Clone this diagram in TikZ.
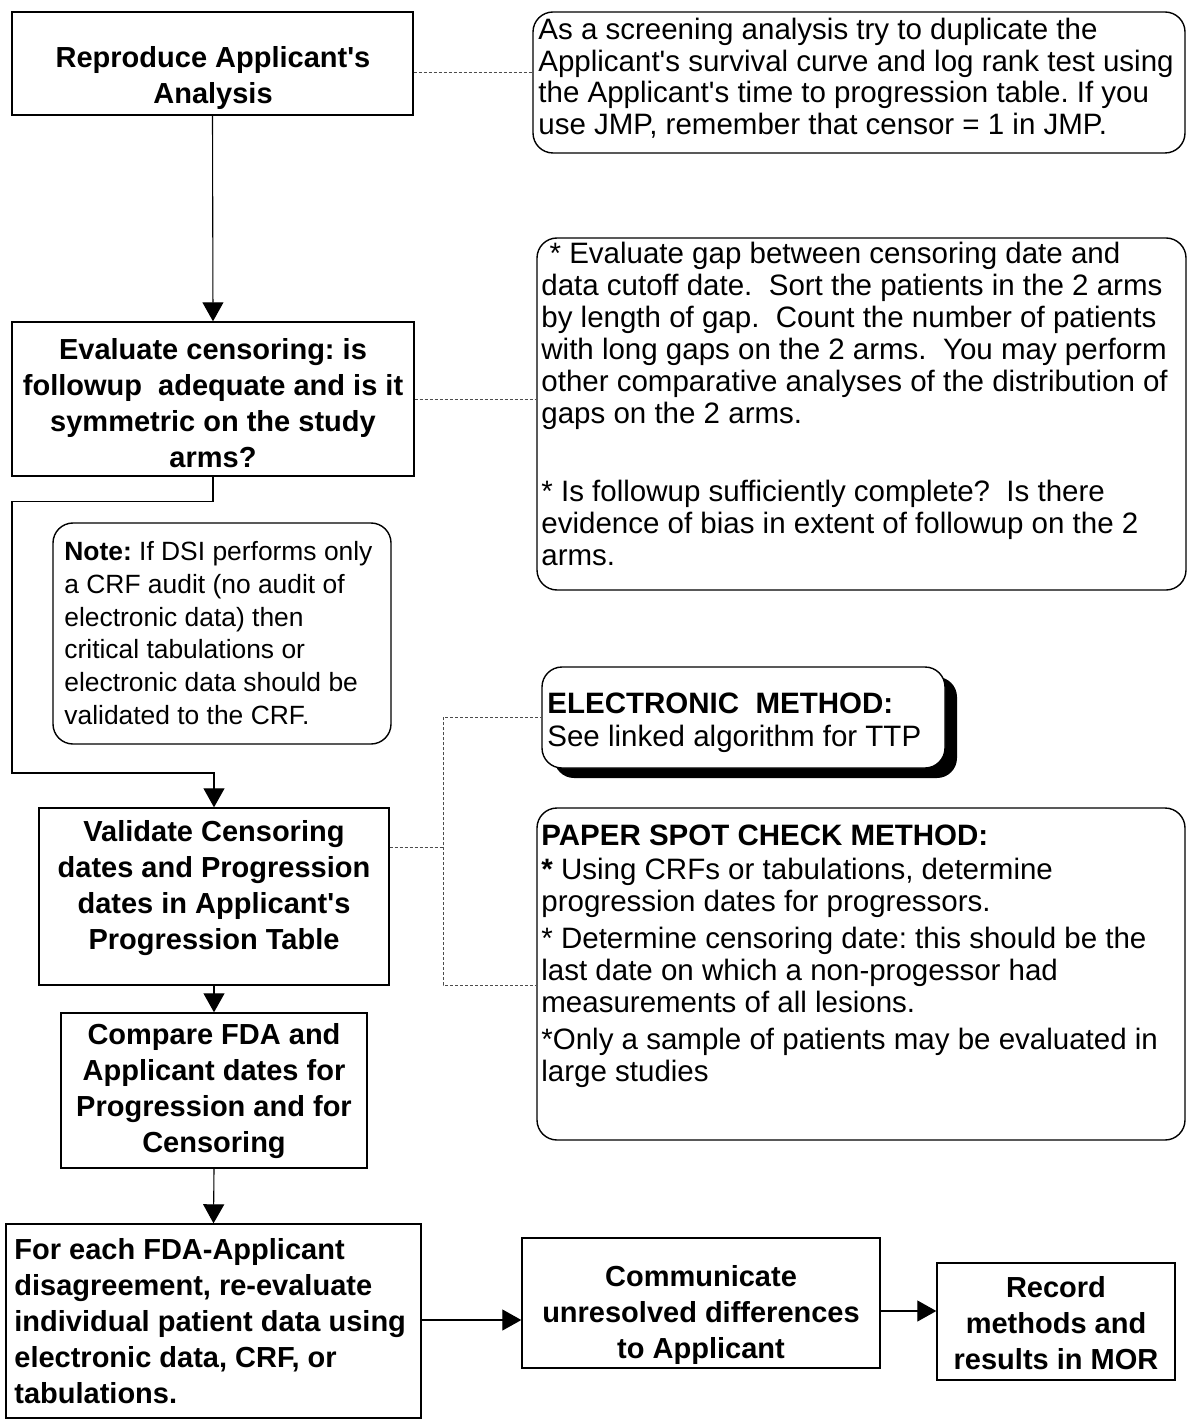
\documentclass[tikz,border=0pt]{standalone}
\usepackage{fontspec}
\setmainfont{Liberation Sans}
\usetikzlibrary{arrows.meta,fit,calc}
\newcommand{\ap}{\textquotesingle}
\begin{document}
\frenchspacing
\begin{tikzpicture}[x=0.5pt,y=-0.5pt,
  box/.style={draw=black, line width=0.7pt, inner sep=0pt},
  rbox/.style={box, rounded corners=10pt},
  flow/.style={draw=black, line width=0.55pt, -{Triangle[length=9.5pt,width=10.5pt]}},
  dotlink/.style={draw=black!70, line width=0.5pt, dash pattern=on 1.5pt off 1pt},
  body/.style={inner sep=0pt, align=left, anchor=north west, font=\fontsize{14.75pt}{#1}\selectfont},
  heavy/.style={inner sep=0pt, align=center, anchor=north, font=\fontsize{14.5pt}{18pt}\selectfont\bfseries},
  heavyleft/.style={inner sep=0pt, align=left, anchor=north west, font=\fontsize{14.5pt}{18pt}\selectfont\bfseries}
]
\useasboundingbox (0,0) rectangle (1188,1422);

% ---- boxes of the main flow ----
\node[box, fit={(12,12) (413,115)}] (b1) {};
\node[box, fit={(12,322) (414,476)}] (b2) {};
\node[box, fit={(39,808) (389,985)}] (b3) {};
\node[box, fit={(61,1013) (367,1168)}] (b4) {};
\node[box, fit={(6,1224) (421,1418)}] (b5) {};
\node[box, fit={(522,1238) (880,1368)}] (b6) {};
\node[box, fit={(937,1263) (1175,1380)}] (b7) {};

% ---- rounded comment boxes ----
\node[rbox, fit={(533,12) (1185,153)}] (r1) {};
\node[rbox, fit={(537,238) (1186,590)}] (r2) {};
\node[rbox, fit={(53,523) (391,744)}] (note) {};
\fill[black, rounded corners=10pt] (554,677) rectangle (957,778);
\node[rbox, fill=white, fit={(542,667) (945,768)}] (elec) {};
\node[rbox, fit={(537,808) (1185,1140)}] (paper) {};

% ---- texts ----
\node[heavy] (t1) at (213,46) {Reproduce Applicant\ap s\\Analysis};
\node[heavy] (t2) at (213,338) {Evaluate censoring: is\\followup \ adequate and is it\\symmetric on the study\\arms?};
\node[heavy] (t3) at (214,820) {Validate Censoring\\dates and Progression\\dates in Applicant\ap s\\Progression Table};
\node[heavy] (t4) at (214,1023) {Compare FDA and\\Applicant dates for\\Progression and for\\Censoring};
\node[heavyleft] (t5) at (14,1238) {For each FDA-Applicant\\disagreement, re-evaluate\\individual patient data using\\electronic data, CRF, or\\tabulations.};
\node[heavy] (t6) at (701,1265) {Communicate\\unresolved differences\\to Applicant};
\node[heavy] (t7) at (1056,1276) {Record\\methods and\\results in MOR};

\node[body=15.8pt] (tr1) at (538,18) {As a screening analysis try to duplicate the\\Applicant\ap s survival curve and log rank test using\\the Applicant\ap s time to progression table. If you\\use JMP, remember that censor = 1 in JMP.};
\node[body=16pt] (tr2) at (541,242) {\ * Evaluate gap between censoring date and\\data cutoff date. \ Sort the patients in the 2 arms\\by length of gap. \ Count the number of patients\\with long gaps on the 2 arms. \ You may perform\\other comparative analyses of the distribution of\\gaps on the 2 arms.\\[23pt]* Is followup sufficiently complete? \ Is there\\evidence of bias in extent of followup on the 2\\arms.};
\node[inner sep=0pt, align=left, anchor=north west, font=\fontsize{13.2pt}{16.4pt}\selectfont] (tn) at (64,541) {\textbf{Note:} If DSI performs only\\a CRF audit (no audit of\\electronic data) then\\critical tabulations or\\electronic data should be\\validated to the CRF.};
\node[body=16.5pt] (te) at (547,692) {\textbf{ELECTRONIC \ METHOD:}\\See linked algorithm for TTP};
\node[body=16pt] (tp) at (541,824) {\textbf{PAPER SPOT CHECK METHOD:}\\[1pt]\textbf{*} Using CRFs or tabulations, determine\\progression dates for progressors.\\[2.5pt]* Determine censoring date: this should be the\\last date on which a non-progessor had\\measurements of all lesions.\\[2.5pt]*Only a sample of patients may be evaluated in\\large studies};

% ---- dotted links to the comments ----
\draw[dotlink] (b1.east |- 0,73) -- (r1.west |- 0,73);
\draw[dotlink] (b2.east |- 0,400) -- (r2.west |- 0,400);
\coordinate (split) at (443,847);
\draw[dotlink] (b3.east |- split) -- (split) |- (elec.west);
\draw[dotlink] (split) |- (paper.west |- 0,985);

% ---- flow arrows ----
\coordinate (loopturn) at (12,773);
\draw[flow] (b1.south) -- (b2.north);
\draw[flow] (b2.south) -- ++(0,25) -| (loopturn) -| (b3.north);
\draw[flow] (b3.south) -- (b4.north);
\draw[flow] (b4.south) -- (b5.north);
\draw[flow] (b5.east |- 0,1320) -- (b6.west |- 0,1320);
\draw[flow] (b6.east |- 0,1311) -- (b7.west |- 0,1311);
\end{tikzpicture}
\end{document}
